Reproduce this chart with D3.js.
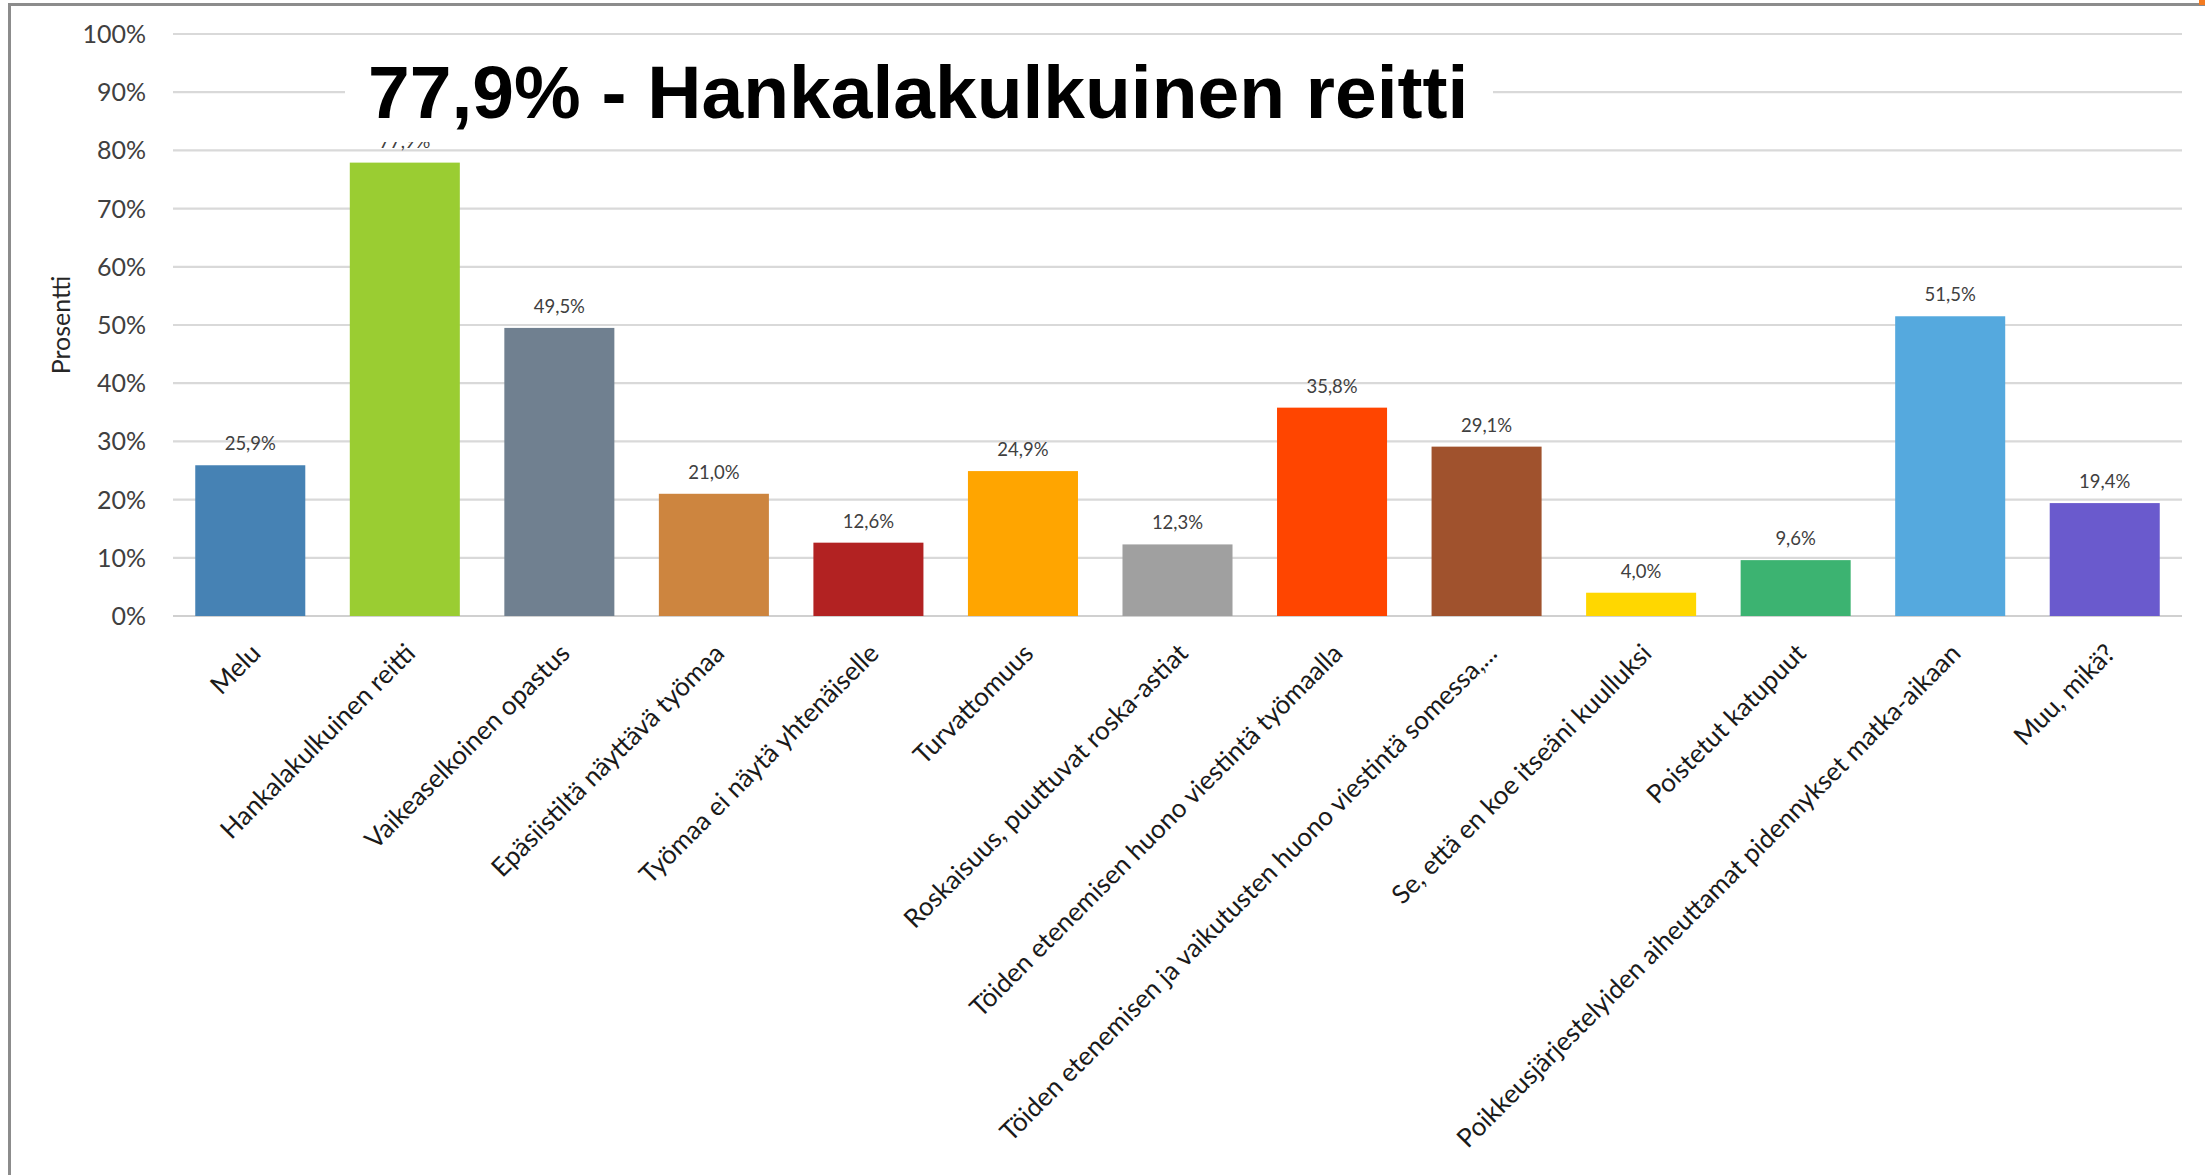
<!DOCTYPE html>
<html>
<head>
<meta charset="utf-8">
<script src="https://cdn.jsdelivr.net/npm/d3@7"></script>
<style>
  html, body { margin: 0; padding: 0; background: #ffffff; }
  svg { display: block; }
</style>
</head>
<body>
<script>
// ---- Data ----
const categories = [
  "Melu",
  "Hankalakulkuinen reitti",
  "Vaikeaselkoinen opastus",
  "Epäsiistiltä näyttävä työmaa",
  "Työmaa ei näytä yhtenäiselle",
  "Turvattomuus",
  "Roskaisuus, puuttuvat roska-astiat",
  "Töiden etenemisen huono viestintä työmaalla",
  "Töiden etenemisen ja vaikutusten huono viestintä somessa,...",
  "Se, että en koe itseäni kuulluksi",
  "Poistetut katupuut",
  "Poikkeusjärjestelyiden aiheuttamat pidennykset matka-aikaan",
  "Muu, mikä?"
];
const values = [25.9, 77.9, 49.5, 21.0, 12.6, 24.9, 12.3, 35.8, 29.1, 4.0, 9.6, 51.5, 19.4];
const barColors = ["#4682B4", "#9ACD32", "#708090", "#CD853F", "#B22222", "#FFA500", "#A0A0A0",
                   "#FF4500", "#A0522D", "#FFD700", "#3CB371", "#55A9DE", "#6A5ACD"];
const yTicks = [0, 10, 20, 30, 40, 50, 60, 70, 80, 90, 100];
const yAxisTitle = "Prosentti";
const overlayTitle = "77,9% - Hankalakulkuinen reitti";

// ---- Layout ----
const W = 2205, H = 1175;
const svg = d3.select("body").append("svg").attr("width", W).attr("height", H);

svg.append("rect").attr("x", 0).attr("y", 0).attr("width", W).attr("height", H).attr("fill", "#ffffff");

// frame (top and left edges)
svg.append("line").attr("x1", 8).attr("x2", W).attr("y1", 4.5).attr("y2", 4.5)
  .attr("stroke", "#8c8c8c").attr("stroke-width", 3);
svg.append("line").attr("x1", 9.5).attr("x2", 9.5).attr("y1", 4).attr("y2", H)
  .attr("stroke", "#8c8c8c").attr("stroke-width", 3);
svg.append("rect").attr("x", 2199).attr("y", 0).attr("width", 6).attr("height", 5).attr("fill", "#F47B20");

const x = d3.scaleBand().domain(categories).range([173, 2182]).paddingInner(0.288).paddingOuter(0.144);
const y = d3.scaleLinear().domain([0, 100]).range([616, 34]);

const font = "Lato, 'Open Sans', sans-serif";

// gridlines
svg.append("g").selectAll("line").data(yTicks).join("line")
  .attr("x1", 173).attr("x2", 2182)
  .attr("y1", d => y(d)).attr("y2", d => y(d))
  .attr("stroke", d => d === 0 ? "#d0d0d0" : "#d9d9d9")
  .attr("stroke-width", 2.2);

// y tick labels
svg.append("g").selectAll("text").data(yTicks).join("text")
  .attr("x", 146).attr("y", d => y(d)).attr("dy", "0.36em")
  .attr("text-anchor", "end")
  .attr("font-family", font).attr("font-size", 25).attr("fill", "#404040")
  .text(d => d + "%");

// y axis title
svg.append("text")
  .attr("transform", `translate(70,${(y(0) + y(100)) / 2}) rotate(-90)`)
  .attr("text-anchor", "middle")
  .attr("font-family", font).attr("font-size", 25).attr("fill", "#262626")
  .text(yAxisTitle);

// bars
svg.append("g").selectAll("rect").data(categories).join("rect")
  .attr("x", d => x(d)).attr("width", x.bandwidth())
  .attr("y", (d, i) => y(values[i]))
  .attr("height", (d, i) => y(0) - y(values[i]))
  .attr("fill", (d, i) => barColors[i]);

// value labels
svg.append("g").selectAll("text").data(categories).join("text")
  .attr("x", d => x(d) + x.bandwidth() / 2)
  .attr("y", (d, i) => y(values[i]) - 15)
  .attr("text-anchor", "middle")
  .attr("font-family", font).attr("font-size", 18.5).attr("fill", "#404040")
  .text((d, i) => values[i].toFixed(1).replace(".", ",") + "%");

// x labels (rotated)
svg.append("g").selectAll("text").data(categories).join("text")
  .attr("transform", d => `translate(${x(d) + x.bandwidth() / 2 + 12},655) rotate(-45)`)
  .attr("text-anchor", "end")
  .attr("font-family", font).attr("font-size", 26).attr("fill", "#1a1a1a")
  .text(d => d);

// overlay title box
svg.append("rect").attr("x", 345).attr("y", 36).attr("width", 1148).attr("height", 106)
  .attr("fill", "#ffffff");
svg.append("text").attr("x", 368).attr("y", 118)
  .attr("font-family", "'Liberation Sans', Arial, sans-serif").attr("font-weight", "bold")
  .attr("font-size", 75).attr("fill", "#000000")
  .text(overlayTitle);
</script>
</body>
</html>
